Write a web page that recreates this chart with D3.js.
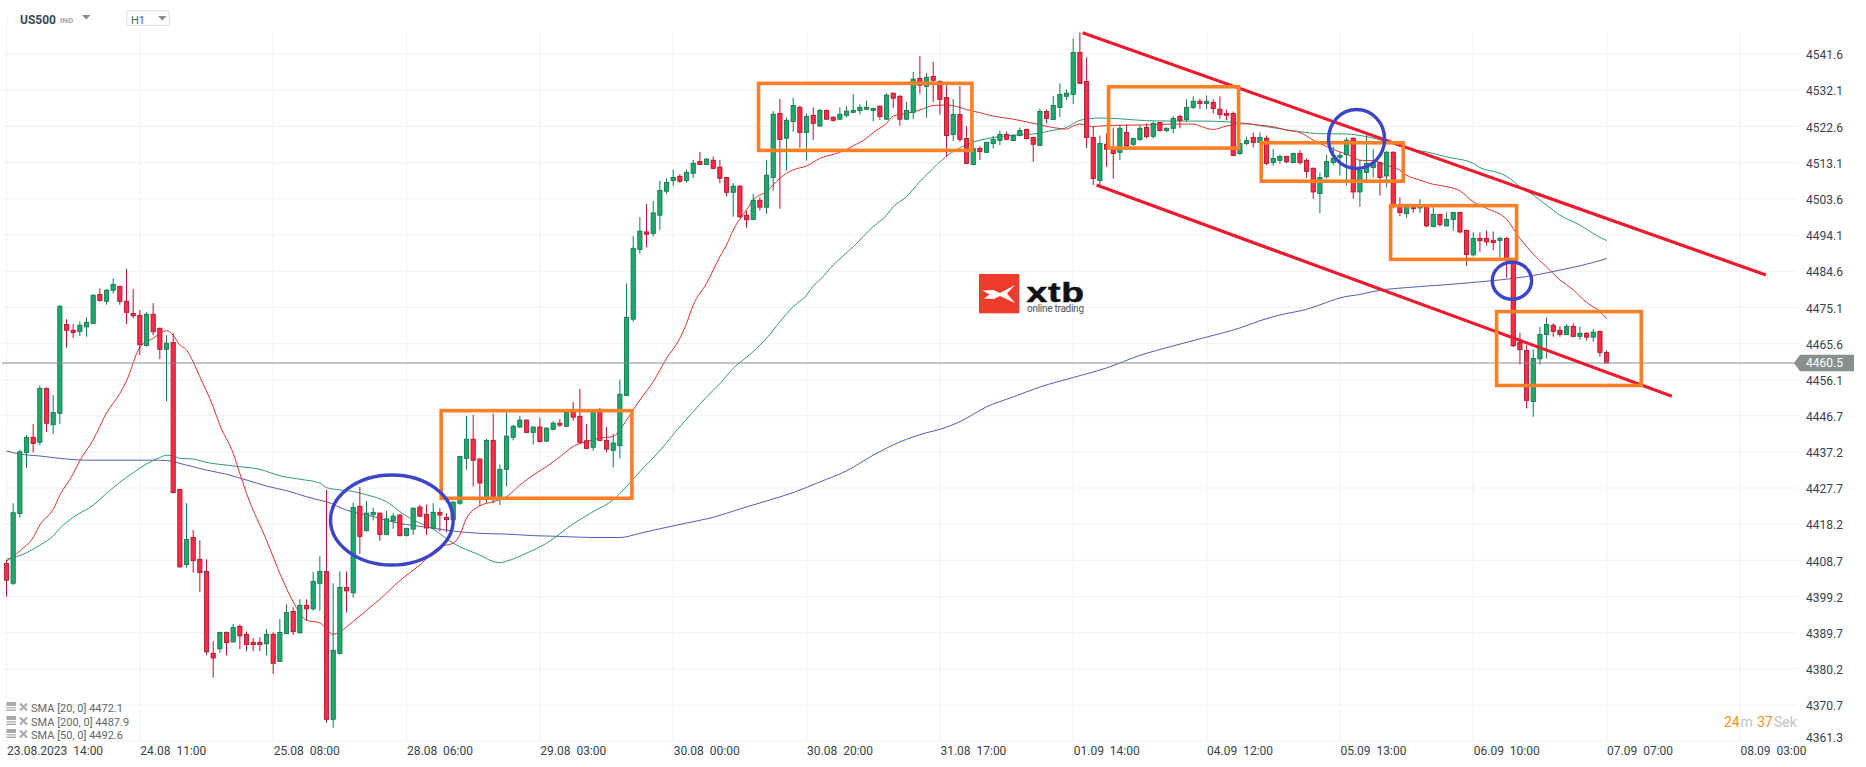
<!DOCTYPE html>
<html><head><meta charset="utf-8">
<script src="https://cdn.jsdelivr.net/npm/d3@7"></script>
<style>
html,body{margin:0;padding:0;background:#fff;overflow:hidden}
svg{display:block;font-family:Roboto,sans-serif}
text{white-space:pre}
</style></head><body><div id="chart"></div>
<script>
const yTickLabels=[4361.3,4370.7,4380.2,4389.7,4399.2,4408.7,4418.2,4427.7,4437.2,4446.7,4456.1,4465.6,4475.1,4484.6,4494.1,4503.6,4513.1,4522.6,4532.1,4541.6];
const xTickLabels=["23.08.2023  14:00","24.08  11:00","25.08  08:00","28.08  06:00","29.08  03:00","30.08  00:00","30.08  20:00","31.08  17:00","01.09  14:00","04.09  12:00","05.09  13:00","06.09  10:00","07.09  07:00","08.09  03:00"];
const xTickEvery=20;
const lastPrice=4460.5;
const legendLabels=["SMA [20, 0] 4472.1","SMA [200, 0] 4487.9","SMA [50, 0] 4492.6"];

const candleOpen=[4407.9,4402.7,4421.0,4437.0,4441.0,4439.7,4453.8,4444.3,4447.3,4470.6,
4469.1,4468.8,4470.0,4470.9,4478.5,4476.7,4479.6,4480.6,4476.7,4473.5,
4473.0,4465.1,4473.3,4469.6,4464.1,4465.9,4427.3,4407.6,4414.7,4409.0,
4405.8,4384.3,4385.5,4389.8,4387.3,4391.4,4389.3,4387.2,4387.2,4386.8,
4389.3,4382.2,4389.5,4395.3,4389.7,4396.9,4396.0,4402.7,4405.8,4367.0,
4384.3,4401.6,4400.2,4422.9,4416.5,4420.7,4421.1,4415.5,4419.1,4420.6,
4415.2,4416.9,4422.7,4420.8,4417.2,4421.3,4420.0,4419.4,4423.7,4435.5,
4440.5,4435.3,4425.0,4440.2,4425.5,4432.6,4441.0,4443.7,4445.5,4442.3,
4443.7,4440.0,4443.1,4444.7,4443.9,4447.9,4446.5,4440.1,4438.4,4447.9,
4440.2,4437.6,4438.8,4452.0,4472.0,4490.3,4494.9,4494.5,4499.3,4505.6,
4508.4,4509.5,4508.4,4510.3,4513.4,4512.6,4513.7,4511.9,4509.2,4505.3,
4506.9,4499.3,4498.2,4503.2,4501.4,4509.2,4526.0,4519.5,4523.9,4527.6,
4521.0,4525.5,4522.7,4526.8,4525.0,4524.5,4525.5,4526.3,4526.8,4527.1,
4526.8,4527.9,4524.5,4531.3,4530.5,4524.5,4526.3,4535.2,4533.1,4535.7,
4534.4,4530.2,4520.5,4525.7,4519.4,4512.6,4516.8,4515.8,4518.1,4518.9,
4520.5,4518.9,4520.2,4521.8,4519.7,4517.6,4526.5,4524.4,4527.6,4530.5,
4531.0,4542.0,4534.4,4519.7,4508.4,4517.9,4516.6,4515.8,4521.0,4517.9,
4519.2,4522.3,4520.0,4523.6,4521.5,4522.1,4525.2,4524.4,4527.6,4529.2,
4528.6,4528.9,4527.1,4526.0,4526.0,4515.5,4518.1,4519.7,4518.4,4519.5,
4513.1,4513.7,4514.7,4513.1,4515.5,4513.7,4511.6,4505.0,4509.4,4513.1,
4514.5,4515.2,4519.5,4505.4,4510.5,4511.8,4513.1,4509.6,4515.8,4501.9,
4499.7,4501.5,4501.2,4501.5,4496.3,4499.5,4496.5,4498.2,4500.0,4495.3,
4488.9,4493.2,4493.2,4492.7,4492.7,4493.2,4487.2,4465.9,4463.8,4450.4,
4461.6,4468.0,4470.4,4469.1,4468.0,4470.1,4467.5,4468.3,4467.3,4468.8,4463.3];

const candleHigh=[4408.8,4423.7,4437.7,4441.6,4444.5,4454.7,4454.1,4452.1,4475.7,4472.0,
4470.7,4471.4,4472.5,4478.5,4480.1,4479.9,4482.7,4480.8,4485.2,4479.9,
4474.4,4473.9,4476.2,4469.8,4467.8,4468.3,4427.5,4423.7,4416.7,4414.0,
4409.0,4387.5,4390.0,4390.0,4392.0,4391.9,4390.0,4388.3,4388.5,4390.7,
4389.8,4393.3,4397.2,4396.4,4398.5,4398.5,4405.6,4409.8,4427.2,4402.7,
4405.8,4405.8,4423.9,4428.0,4424.3,4422.5,4421.3,4421.7,4421.1,4420.8,
4417.3,4422.6,4423.3,4423.3,4423.7,4422.4,4421.1,4424.2,4436.1,4446.6,
4446.9,4435.5,4440.6,4447.2,4433.9,4447.8,4444.3,4446.6,4445.7,4443.8,
4446.1,4443.6,4445.2,4445.8,4448.2,4450.3,4453.7,4444.5,4448.2,4448.7,
4443.7,4441.9,4456.1,4481.4,4493.8,4498.8,4502.2,4503.0,4508.3,4509.0,
4511.2,4510.1,4511.3,4513.8,4515.9,4514.3,4514.7,4513.8,4509.4,4507.7,
4507.2,4500.4,4504.9,4504.0,4513.8,4526.6,4529.8,4525.0,4530.1,4528.1,
4526.0,4527.6,4527.2,4527.0,4525.2,4527.6,4527.9,4531.1,4528.4,4529.3,
4527.5,4528.1,4531.3,4531.5,4530.8,4529.0,4536.9,4541.1,4536.6,4539.5,
4534.7,4533.4,4529.8,4533.2,4522.7,4519.2,4517.4,4518.6,4520.1,4521.5,
4521.3,4520.4,4522.3,4522.0,4519.9,4527.3,4527.1,4530.6,4533.9,4532.3,
4545.7,4547.3,4540.7,4522.7,4520.2,4520.8,4522.3,4523.1,4523.1,4519.7,
4522.9,4523.4,4523.9,4523.8,4522.3,4525.3,4525.7,4529.7,4530.5,4529.9,
4530.7,4529.7,4530.5,4527.1,4526.5,4519.2,4519.9,4521.0,4521.0,4520.2,
4516.6,4515.2,4514.9,4515.7,4516.4,4514.2,4511.8,4510.5,4515.2,4517.3,
4515.9,4519.7,4519.7,4513.9,4520.3,4516.6,4513.3,4516.1,4516.1,4504.0,
4501.7,4501.7,4503.5,4501.7,4501.5,4499.7,4500.0,4500.2,4500.2,4495.5,
4494.8,4494.8,4495.3,4495.0,4493.6,4493.6,4487.4,4468.5,4465.2,4464.1,
4470.0,4472.5,4470.9,4470.2,4470.7,4470.9,4470.1,4468.6,4469.4,4469.0,4463.8];

const candleLow=[4399.2,4402.2,4419.9,4433.0,4437.0,4439.0,4442.4,4441.9,4444.5,4464.5,
4467.1,4467.6,4467.4,4470.7,4476.6,4475.8,4478.7,4475.8,4470.7,4472.2,
4462.6,4464.8,4467.8,4461.5,4450.5,4426.3,4406.8,4406.8,4405.5,4400.4,
4383.8,4377.9,4384.4,4383.8,4387.1,4385.4,4384.9,4384.9,4384.9,4383.8,
4378.9,4382.0,4389.3,4389.1,4389.5,4392.9,4395.5,4395.5,4366.1,4364.8,
4384.0,4395.0,4398.9,4410.4,4416.3,4419.2,4413.8,4415.3,4417.0,4415.0,
4415.0,4415.4,4420.1,4415.4,4417.0,4416.3,4416.1,4419.2,4423.3,4432.5,
4428.1,4423.0,4423.7,4423.7,4423.2,4428.1,4440.2,4443.5,4442.1,4439.1,
4439.6,4439.8,4442.9,4443.7,4443.7,4445.4,4439.3,4437.9,4437.5,4440.0,
4437.0,4433.1,4435.4,4451.8,4471.3,4489.2,4490.9,4493.7,4495.4,4504.9,
4507.0,4507.8,4507.8,4509.1,4512.5,4512.4,4511.3,4507.7,4504.2,4498.9,
4498.5,4496.0,4498.0,4500.5,4499.6,4505.7,4501.0,4511.0,4521.2,4517.0,
4513.6,4519.0,4522.4,4524.3,4523.8,4524.3,4525.0,4526.1,4525.7,4527.0,
4523.9,4524.3,4524.3,4527.4,4522.8,4524.3,4524.5,4531.2,4524.9,4529.0,
4525.7,4514.6,4518.8,4518.6,4512.7,4512.4,4513.8,4515.6,4516.8,4517.7,
4519.0,4518.7,4520.0,4519.2,4513.3,4517.4,4523.4,4524.2,4525.1,4529.5,
4528.5,4533.7,4516.9,4507.2,4507.2,4512.0,4508.9,4513.8,4516.8,4517.4,
4518.8,4519.4,4519.4,4521.3,4521.1,4520.8,4522.1,4523.8,4527.1,4527.2,
4527.1,4526.0,4524.6,4524.2,4514.8,4515.0,4517.7,4517.1,4518.1,4512.4,
4512.3,4512.8,4512.9,4512.9,4512.6,4509.1,4503.6,4499.8,4508.9,4512.4,
4509.7,4507.1,4503.6,4501.5,4508.4,4509.2,4504.4,4506.6,4501.1,4499.1,
4498.6,4499.9,4499.9,4496.1,4496.1,4496.3,4496.3,4495.2,4494.5,4486.0,
4488.5,4489.7,4491.3,4490.1,4488.1,4482.9,4464.7,4460.1,4448.6,4446.4,
4460.1,4461.7,4467.4,4467.4,4467.8,4467.3,4466.6,4466.4,4466.1,4462.2,4460.4];

const candleClose=[4403.5,4421.2,4437.2,4441.0,4439.4,4453.8,4444.7,4447.5,4475.4,4469.1,
4468.5,4470.4,4471.2,4478.3,4476.9,4479.6,4481.1,4476.7,4473.8,4472.9,
4465.3,4473.3,4468.7,4464.1,4465.7,4426.5,4407.0,4414.2,4408.6,4405.5,
4384.7,4383.1,4389.8,4387.1,4391.1,4388.9,4386.6,4386.6,4386.6,4389.3,
4381.7,4389.8,4395.0,4390.0,4396.9,4396.0,4403.2,4405.8,4367.0,4385.1,
4401.6,4400.7,4422.6,4415.0,4421.1,4421.3,4415.5,4419.6,4420.3,4415.2,
4417.1,4422.4,4420.3,4417.2,4421.3,4420.6,4419.4,4424.0,4436.0,4440.5,
4435.0,4429.0,4440.2,4425.5,4432.6,4441.3,4443.9,4445.5,4442.3,4443.7,
4439.9,4443.4,4444.7,4444.2,4447.6,4446.3,4439.7,4438.1,4447.9,4440.2,
4437.9,4439.5,4452.3,4472.5,4490.6,4495.1,4494.3,4499.9,4505.8,4507.9,
4509.2,4508.2,4510.5,4512.9,4512.6,4514.0,4511.6,4509.0,4505.3,4506.9,
4498.9,4498.1,4503.2,4501.4,4509.8,4525.8,4519.2,4524.2,4528.1,4521.0,
4525.2,4523.4,4526.8,4524.5,4524.2,4525.8,4526.6,4526.8,4527.6,4527.6,
4527.3,4525.2,4530.8,4530.0,4524.5,4526.8,4535.0,4533.4,4535.5,4534.7,
4529.7,4520.2,4525.7,4519.2,4512.9,4516.8,4516.0,4518.4,4519.2,4520.5,
4519.2,4520.2,4521.5,4519.4,4517.9,4526.5,4524.7,4528.1,4531.0,4531.3,
4542.0,4533.9,4519.7,4508.9,4518.1,4516.6,4515.5,4522.1,4517.6,4519.4,
4522.1,4519.9,4523.4,4521.5,4522.1,4524.7,4524.2,4527.6,4529.2,4528.6,
4529.2,4527.3,4525.7,4525.5,4515.0,4518.1,4518.9,4518.4,4519.7,4512.9,
4514.2,4514.7,4513.3,4515.5,4513.1,4510.8,4505.4,4509.2,4513.4,4514.2,
4515.0,4519.0,4505.4,4511.0,4512.9,4512.9,4509.2,4515.8,4501.8,4500.0,
4501.5,4501.0,4501.5,4496.5,4499.5,4496.8,4498.2,4500.0,4494.9,4489.0,
4493.2,4492.6,4492.3,4492.1,4493.2,4487.7,4465.0,4464.0,4450.7,4461.7,
4468.0,4470.6,4468.8,4468.0,4470.1,4467.5,4468.3,4467.3,4468.6,4463.3,4460.5];

const sma20Index=[0,2,4,5,7,8,10,11,13,15,17,18,20,22,23,24,25,26,27,28,29,31,32,34,35,36,39,41,43,45,47,49,50,52,54,56,59,62,65,67,68,69,71,73,75,77,79,81,83,85,87,89,91,92,93,95,97,99,101,102,103,105,107,108,109,111,112,114,116,118,120,122,125,127,129,130,132,133,135,137,139,141,143,144,146,148,151,154,157,159,160,161,162,163,164,167,171,175,178,180,181,183,186,188,190,192,194,196,198,200,202,203,205,207,209,210,212,214,216,218,220,222,225,227,229,231,233,235,237,239,240];
const sma20Value=[4408.5,4411.2,4414.7,4418,4422.1,4425.8,4431.4,4434.9,4440.3,4447.4,4452.5,4455.8,4464.6,4467,4468.2,4469,4467.8,4465.2,4463.9,4460.8,4456.9,4449,4444.2,4436.8,4431.5,4426.3,4414,4405.3,4397.8,4393,4392.3,4389.3,4390,4392.7,4395.6,4398.5,4403.4,4407.5,4412.3,4413.2,4415.4,4419.8,4423,4424.1,4425.4,4428.5,4431.1,4433.3,4435.9,4438.6,4439.9,4440.8,4441.2,4443,4445.5,4450.8,4455.6,4461.7,4467,4470.9,4475.7,4481.4,4488.4,4491.5,4495.4,4500.7,4503.3,4505.5,4509,4511.2,4512.2,4514.2,4515.8,4517.5,4519.5,4521,4523.4,4525.3,4526,4526.9,4528.1,4528.2,4527.6,4527,4526.2,4525.3,4524.5,4523.4,4522.3,4521.9,4522.7,4523.2,4522.9,4522.5,4522.7,4522.9,4523,4523.2,4523.2,4522.1,4521.8,4522.7,4523.3,4522.9,4522.5,4521.6,4521,4519,4517.3,4515.9,4514.6,4513.7,4513.6,4512.4,4511.1,4509.8,4508.5,4507.4,4506.8,4505.7,4502.8,4501.1,4498.2,4493.2,4489.1,4485.7,4482.3,4479.7,4476.4,4474,4472.2];

const sma50Index=[0,3,5,7,8,10,13,15,17,19,21,23,24,25,26,28,30,32,35,38,41,44,47,48,50,52,54,57,59,61,64,67,69,71,73,74,75,78,81,85,88,91,93,95,98,101,103,105,107,109,112,114,116,118,120,121,122,124,127,130,132,133,135,137,139,141,144,148,151,154,157,159,161,164,167,171,175,179,183,185,188,191,194,197,201,204,207,210,213,216,220,221,224,225,227,229,231,233,236,238,240];
const sma50Value=[4409,4410.7,4412.7,4415.1,4417.1,4420,4423.2,4426.3,4429.2,4431.7,4434,4435.7,4436.3,4436.2,4435.5,4435.3,4434.4,4433.9,4433.3,4432.6,4430.9,4430,4429,4427.8,4427.2,4426.8,4425.9,4424.1,4421.5,4419.3,4416.9,4413.2,4411.5,4410.1,4408.4,4408.1,4408.5,4410.6,4413.2,4418.3,4421.5,4424.6,4428.1,4432,4437.5,4443.8,4447.7,4451.6,4455.1,4459.1,4463.5,4467,4471.3,4475.3,4478.3,4480.7,4482.3,4486.2,4491,4496.3,4499.3,4501.5,4504.2,4508.1,4511.6,4514.8,4517.8,4519.7,4520.3,4520.6,4521.6,4522.3,4524.2,4524.8,4524.6,4524.1,4524,4524,4523.8,4523.55,4522.8,4522,4521.2,4520.7,4520.6,4519.9,4518.6,4516.8,4515.9,4514.6,4512.9,4511.8,4510.3,4509.5,4506.8,4504.6,4501.9,4499.3,4496.7,4494.5,4492.6];

const sma200Index=[0,2,5,9,12,22,24,27,30,33,36,39,42,45,47,48,51,55,59,63,67,71,75,79,83,88,92,95,98,102,106,110,114,118,122,126,130,134,138,140,143,147,151,155,160,165,170,175,180,185,188,191,195,198,200,203,206,210,213,217,221,224,228,230,233,236,240];
const sma200Value=[4437.4,4436.6,4436.1,4435.3,4435,4435,4434.9,4433.7,4432.4,4431.3,4429.8,4428.2,4427,4425.4,4424.5,4424.1,4421.9,4420.2,4418.4,4417.4,4416.4,4415.8,4415.6,4415.2,4415,4414.7,4414.7,4415.8,4417,4418.5,4420,4422.2,4424.3,4426.5,4429.3,4432.2,4436.3,4439.8,4442.2,4443.1,4445.1,4449,4451.6,4454.2,4456.7,4459.2,4462.5,4465,4467.3,4469.7,4471.6,4473.1,4474.6,4476.4,4477.6,4478.5,4479.6,4480.3,4480.7,4481.2,4481.8,4482.3,4483.2,4483.8,4484.9,4486,4487.9];

// hand-drawn annotations, expressed in chart units (candle index, price)
const channelUpper=[[161.4,4547.2],[263.9,4483.6]];
const channelLower=[[163.5,4507.2],[249.8,4451.8]];
const boxStart=[65.2,112.8,165.3,188.2,207.6,223.5];
const boxEnd=[93.8,144.8,184.8,209.5,226.5,245.2];
const boxTop=[4448,4533.9,4533,4518.3,4501.8,4474];
const boxBottom=[4425,4516.3,4516.9,4508.2,4487.7,4454.6];
const ringIndex=[57.8,202.5,225.8];
const ringPrice=[4419.3,4519.3,4482.1];
const ringSpanIndex=[9.2,4.2,2.95];
const ringSpanPrice=[11.8,7.74,4.86];

const W=1866,H=767;
const C={green:"#20a86c",greenD:"#117a50",red:"#fd2b46",redD:"#b0152f",grid:"#f3f3f3",text:"#36424c",
 s20:"#e0332f",s50:"#2f9a78",s200:"#565bb8",orange:"#ff7f27",blue:"#3c44c9",chan:"#ee1a2e",price:"#87908f"};
const svg=d3.select("#chart").append("svg").attr("width",W).attr("height",H).attr("viewBox",`0 0 ${W} ${H}`);
const x=d3.scaleLinear().domain([0,240]).range([6.5,1606.6]);
const y=d3.scaleLinear().domain([4361.3,4541.6]).range([741,54]);
const right=1798,left=2;

// grid
const xTicks=xTickLabels.map((_,k)=>k*xTickEvery);
const gGrid=svg.append("g");
gGrid.selectAll("line.h").data(yTickLabels).join("line").attr("class","h")
 .attr("x1",left).attr("x2",right).attr("y1",d=>y(d)).attr("y2",d=>y(d)).attr("stroke",C.grid).attr("stroke-width",1.2);
gGrid.selectAll("line.v").data(xTicks).join("line").attr("class","v")
 .attr("x1",d=>x(d)).attr("x2",d=>x(d)).attr("y1",(d,k)=>k===0?18:32).attr("y2",741).attr("stroke",C.grid).attr("stroke-width",1.2);

// axes
const yAxis=d3.axisRight(y).tickValues(yTickLabels).tickFormat(d3.format(".1f")).tickSize(0).tickPadding(0);
const gy=svg.append("g").attr("transform","translate(1806,0.8)").call(yAxis);
gy.select(".domain").remove();
gy.selectAll("text").attr("font-family","Roboto,sans-serif").attr("font-size",12).attr("fill",C.text)
 .attr("dy",d=>d===yTickLabels[0]?"0.0em":"0.32em");
const xAxis=d3.axisBottom(x).tickValues(xTicks).tickFormat((d,k)=>xTickLabels[k]).tickSize(0).tickPadding(0);
const gx=svg.append("g").attr("transform","translate(0,745)").call(xAxis);
gx.select(".domain").remove();
gx.selectAll("text").attr("font-family","Roboto,sans-serif").attr("font-size",12).attr("fill",C.text)
 .attr("text-anchor","start").attr("y",0).attr("dy","0.85em");

// moving averages (behind the candles)
const lineGen=d3.line().x(d=>x(d[0])).y(d=>y(d[1]));
const smaLine=d3.line().curve(d3.curveMonotoneX).x(d=>x(d[0])).y(d=>y(d[1]));
[[sma200Index,sma200Value,C.s200],[sma50Index,sma50Value,C.s50],[sma20Index,sma20Value,C.s20]].forEach(([ix,val,col])=>{
 svg.append("path").datum(ix.map((d,k)=>[d,val[k]])).attr("d",smaLine).attr("fill","none").attr("stroke",col).attr("stroke-width",1);
});

// candles
const candles=candleOpen.map((o,i)=>({i,o,h:candleHigh[i],l:candleLow[i],c:candleClose[i]}));
const gC=svg.append("g");
const up=d=>d.c>=d.o;
gC.selectAll("line").data(candles).join("line")
 .attr("x1",d=>x(d.i)).attr("x2",d=>x(d.i)).attr("y1",d=>y(d.h)).attr("y2",d=>y(d.l))
 .attr("stroke",d=>up(d)?C.greenD:C.redD).attr("stroke-width",1);
gC.selectAll("rect").data(candles).join("rect")
 .attr("x",d=>x(d.i)-2.1).attr("width",4.2)
 .attr("y",d=>y(Math.max(d.o,d.c))).attr("height",d=>Math.max(1,Math.abs(y(d.o)-y(d.c))))
 .attr("fill",d=>up(d)?C.green:C.red).attr("stroke",d=>up(d)?C.greenD:C.redD).attr("stroke-width",0.9);

// last price
svg.append("line").attr("x1",left).attr("x2",1795).attr("y1",y(lastPrice)).attr("y2",y(lastPrice)).attr("stroke",C.price).attr("stroke-width",1);
const py=y(lastPrice);
svg.append("path").attr("d",`M1794,${py}L1800,${py-8.3}H1854V${py+8.3}H1800Z`).attr("fill",C.price);
svg.append("text").attr("x",1806).attr("y",py).attr("dy","0.36em").attr("font-size",12).attr("fill","#fff").text(d3.format(".1f")(lastPrice));

// annotations
const gA=svg.append("g");
[channelUpper,channelLower].forEach(c=>gA.append("path").attr("d",lineGen(c)).attr("stroke",C.chan).attr("stroke-width",3.2).attr("fill","none"));
gA.selectAll("rect").data(boxStart.map((_,k)=>k)).join("rect")
 .attr("x",k=>x(boxStart[k])).attr("width",k=>x(boxEnd[k])-x(boxStart[k]))
 .attr("y",k=>y(boxTop[k])).attr("height",k=>y(boxBottom[k])-y(boxTop[k]))
 .attr("fill","none").attr("stroke",C.orange).attr("stroke-width",3.6);
gA.selectAll("ellipse").data(ringIndex.map((_,k)=>k)).join("ellipse")
 .attr("cx",k=>x(ringIndex[k])).attr("cy",k=>y(ringPrice[k]))
 .attr("rx",k=>x(ringSpanIndex[k])-x(0)).attr("ry",k=>y(0)-y(ringSpanPrice[k]))
 .attr("fill","none").attr("stroke",C.blue).attr("stroke-width",3.4);

// logo
const gL=svg.append("g").attr("transform","translate(979,274)");
gL.append("rect").attr("width",40.3).attr("height",39.3).attr("fill","#ee3b2b");
gL.append("path").attr("d","M3.5,16.5 L14.5,16 L21,19 L36,11 L28,19.5 L36,29 L21,22 L14.5,25 L5,24.5 L10.5,20.5Z").attr("fill","#fff");
svg.append("text").attr("transform","translate(1026.5,301.5) scale(1.38,1)").attr("font-family","'Liberation Sans',Arial,sans-serif").attr("font-weight",700)
 .attr("font-size",27).attr("letter-spacing",0.6).attr("fill","#111").attr("stroke","#111").attr("stroke-width",0.5).text("xtb");
svg.append("text").attr("x",1027).attr("y",312).attr("font-size",10).attr("fill","#555").attr("textLength",57).text("online trading");

// header
svg.append("text").attr("x",20).attr("y",23.5).attr("font-size",12).attr("font-weight",700).attr("fill","#3c4852").text("US500");
svg.append("text").attr("x",60).attr("y",22.5).attr("font-size",8).attr("font-weight",700).attr("fill","#a5a5a5").text("IND");
svg.append("path").attr("d","M82,15H90.5L86.2,19.5Z").attr("fill","#8b8b8b");
svg.append("rect").attr("x",126.7).attr("y",10.7).attr("width",42.5).attr("height",14.6).attr("rx",2).attr("fill","#fff").attr("stroke","#dedede");
svg.append("text").attr("x",131).attr("y",24).attr("font-size",11).attr("fill","#55606a").text("H1");
svg.append("path").attr("d","M158,16H166.5L162.2,20.5Z").attr("fill","#8b8b8b");

// legend
const legendY=[708,722,735];
legendLabels.forEach((t,k)=>{
 const g=svg.append("g").attr("transform",`translate(0,${legendY[k]})`);
 g.append("rect").attr("x",6.5).attr("y",-6).attr("width",9.5).attr("height",4).attr("fill","#a9a9a9");
 g.append("rect").attr("x",6.5).attr("y",-0.8).attr("width",9.5).attr("height",1.2).attr("fill","#a9a9a9");
 g.append("rect").attr("x",6.5).attr("y",1.6).attr("width",9.5).attr("height",1.4).attr("fill","#a9a9a9");
 g.append("path").attr("d","M20,-4.5L27,2.5M27,-4.5L20,2.5").attr("stroke","#a9a9a9").attr("stroke-width",2);
 g.append("text").attr("x",31).attr("y",0).attr("dy","0.36em").attr("font-size",11).attr("fill","#666").text(t);
});

// countdown
const cd=svg.append("text").attr("y",722).attr("dy","0.36em").attr("font-size",14);
cd.append("tspan").attr("x",1724).attr("fill","#f7931e").text("24");
cd.append("tspan").attr("x",1740.5).attr("fill","#c3c3c3").text("m");
cd.append("tspan").attr("x",1757).attr("fill","#f7931e").text("37");
cd.append("tspan").attr("x",1774).attr("fill","#c3c3c3").text("Sek");
</script></body></html>
